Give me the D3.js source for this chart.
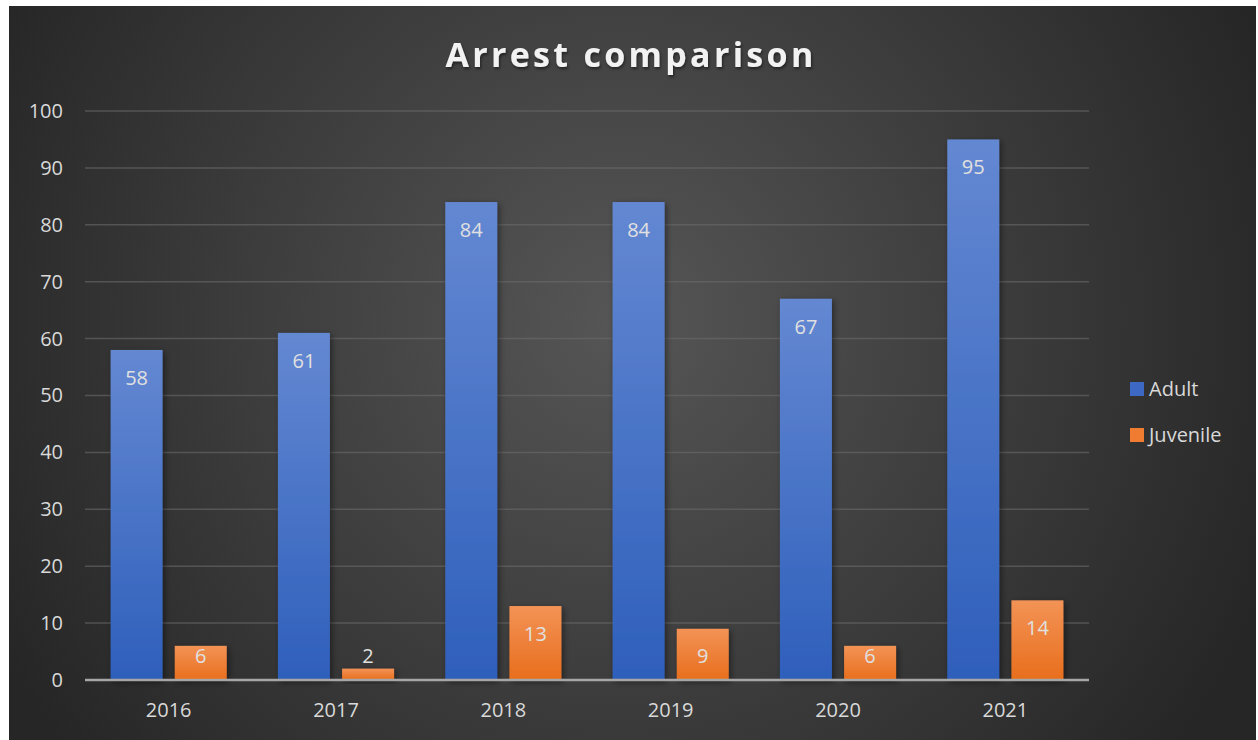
<!DOCTYPE html>
<html>
<head>
<meta charset="utf-8">
<script src="https://cdn.jsdelivr.net/npm/d3@7"></script>
<style>
  html, body { margin: 0; padding: 0; background: #fff; }
  svg { display: block; }
</style>
</head>
<body>
<div id="container"></div>
<script>
// chart data
const years = ["2016", "2017", "2018", "2019", "2020", "2021"];
const seriesNames = ["Adult", "Juvenile"];
const adult = [58, 61, 84, 84, 67, 95];
const juvenile = [6, 2, 13, 9, 6, 14];
const yTicks = [0, 10, 20, 30, 40, 50, 60, 70, 80, 90, 100];

const width = 1258;
const height = 740;
const font = "'Open Sans', 'Noto Sans', sans-serif";

const svg = d3.create("svg")
    .attr("width", width)
    .attr("height", height)
    .attr("viewBox", [0, 0, width, height]);

const defs = svg.append("defs");

// dark radial background
const bg = defs.append("radialGradient")
    .attr("id", "bg")
    .attr("gradientUnits", "userSpaceOnUse")
    .attr("cx", 620).attr("cy", 320).attr("r", 700);
bg.append("stop").attr("offset", "0%").attr("stop-color", "#565656");
bg.append("stop").attr("offset", "100%").attr("stop-color", "#262626");

const blueGrad = defs.append("linearGradient")
    .attr("id", "blueGrad").attr("x1", 0).attr("y1", 0).attr("x2", 0).attr("y2", 1);
blueGrad.append("stop").attr("offset", "0%").attr("stop-color", "#6488d2");
blueGrad.append("stop").attr("offset", "100%").attr("stop-color", "#2e5fbb");

const orangeGrad = defs.append("linearGradient")
    .attr("id", "orangeGrad").attr("x1", 0).attr("y1", 0).attr("x2", 0).attr("y2", 1);
orangeGrad.append("stop").attr("offset", "0%").attr("stop-color", "#f39356");
orangeGrad.append("stop").attr("offset", "100%").attr("stop-color", "#e86e1c");

const shadow = defs.append("filter").attr("id", "shadow")
    .attr("x", "-20%").attr("y", "-20%").attr("width", "150%").attr("height", "150%");
shadow.append("feDropShadow")
    .attr("dx", 2).attr("dy", 2).attr("stdDeviation", 3)
    .attr("flood-color", "#000").attr("flood-opacity", 0.45);

const titleShadow = defs.append("filter").attr("id", "titleShadow");
titleShadow.append("feDropShadow")
    .attr("dx", 1).attr("dy", 2).attr("stdDeviation", 1.5)
    .attr("flood-color", "#000").attr("flood-opacity", 0.5);

svg.append("rect")
    .attr("x", 9).attr("y", 6)
    .attr("width", 1247).attr("height", 734)
    .attr("fill", "url(#bg)");

// title
svg.append("text")
    .attr("x", 631).attr("y", 67)
    .attr("text-anchor", "middle")
    .attr("fill", "#f2f2f2")
    .attr("font-family", font)
    .attr("font-weight", "bold")
    .attr("font-size", 34)
    .attr("letter-spacing", 3.3)
    .attr("filter", "url(#titleShadow)")
    .text("Arrest comparison");

// scales
const plotLeft = 85, plotRight = 1089, plotTop = 111, plotBottom = 680;

const x = d3.scaleBand()
    .domain(years)
    .range([plotLeft, plotRight])
    .paddingInner(0)
    .paddingOuter(0);

const xInner = d3.scaleBand()
    .domain(seriesNames)
    .range([25.6, x.bandwidth() - 25.6])
    .paddingInner(0.19);

const y = d3.scaleLinear()
    .domain([0, 100])
    .range([plotBottom, plotTop]);

// gridlines
svg.append("g")
    .selectAll("line")
    .data(yTicks.filter(d => d > 0))
    .join("line")
    .attr("x1", plotLeft).attr("x2", plotRight)
    .attr("y1", d => y(d)).attr("y2", d => y(d))
    .attr("stroke", "#6a6a6a")
    .attr("stroke-opacity", 0.6)
    .attr("stroke-width", 1.5);

// y axis labels
const yAxis = svg.append("g")
    .attr("transform", `translate(${plotLeft - 22},0)`)
    .call(d3.axisLeft(y).tickValues(yTicks).tickSize(0).tickPadding(0));
yAxis.select(".domain").remove();
yAxis.selectAll("text")
    .attr("fill", "#d9d9d9")
    .attr("font-family", font)
    .attr("font-size", 20);

// x axis labels
const xAxis = svg.append("g")
    .attr("transform", `translate(0,${plotBottom + 20})`)
    .call(d3.axisBottom(x).tickSize(0).tickPadding(0));
xAxis.select(".domain").remove();
xAxis.selectAll("text")
    .attr("fill", "#d9d9d9")
    .attr("font-family", font)
    .attr("font-size", 20)
    .attr("dy", "0.85em");

// bars
const rows = years.map((yr, i) => ({
    year: yr,
    values: [
        {key: "Adult", value: adult[i]},
        {key: "Juvenile", value: juvenile[i]}
    ]
}));
const fills = {Adult: "url(#blueGrad)", Juvenile: "url(#orangeGrad)"};

const groups = svg.append("g")
    .selectAll("g")
    .data(rows)
    .join("g")
    .attr("transform", d => `translate(${x(d.year)},0)`);

groups.selectAll("rect")
    .data(d => d.values)
    .join("rect")
    .attr("x", d => xInner(d.key))
    .attr("y", d => y(d.value))
    .attr("width", xInner.bandwidth())
    .attr("height", d => y(0) - y(d.value))
    .attr("fill", d => fills[d.key])
    .attr("filter", "url(#shadow)");

// axis line
svg.append("line")
    .attr("x1", plotLeft).attr("x2", plotRight)
    .attr("y1", plotBottom).attr("y2", plotBottom)
    .attr("stroke", "#a6a6a6")
    .attr("stroke-width", 2.5);

// data labels
groups.selectAll("text.lbl")
    .data(d => d.values)
    .join("text")
    .attr("class", "lbl")
    .attr("x", d => xInner(d.key) + xInner.bandwidth() / 2)
    .attr("y", d => Math.min(y(d.value) + 28, y(0) - 24))
    .attr("dy", "0.35em")
    .attr("text-anchor", "middle")
    .attr("fill", "#e0e0e0")
    .attr("font-family", font)
    .attr("font-size", 20)
    .text(d => d.value);

// legend
const legend = svg.append("g")
    .selectAll("g")
    .data(seriesNames)
    .join("g")
    .attr("transform", (d, i) => `translate(1130,${389 + i * 46})`);
legend.append("rect")
    .attr("x", 0).attr("y", -7)
    .attr("width", 14).attr("height", 14)
    .attr("fill", d => d === "Adult" ? "#3d68c4" : "#ef7c30");
legend.append("text")
    .attr("x", 19).attr("y", 0)
    .attr("dy", "0.35em")
    .attr("fill", "#d9d9d9")
    .attr("font-family", font)
    .attr("font-size", 20)
    .text(d => d);

d3.select("#container").append(() => svg.node());
</script>
</body>
</html>
